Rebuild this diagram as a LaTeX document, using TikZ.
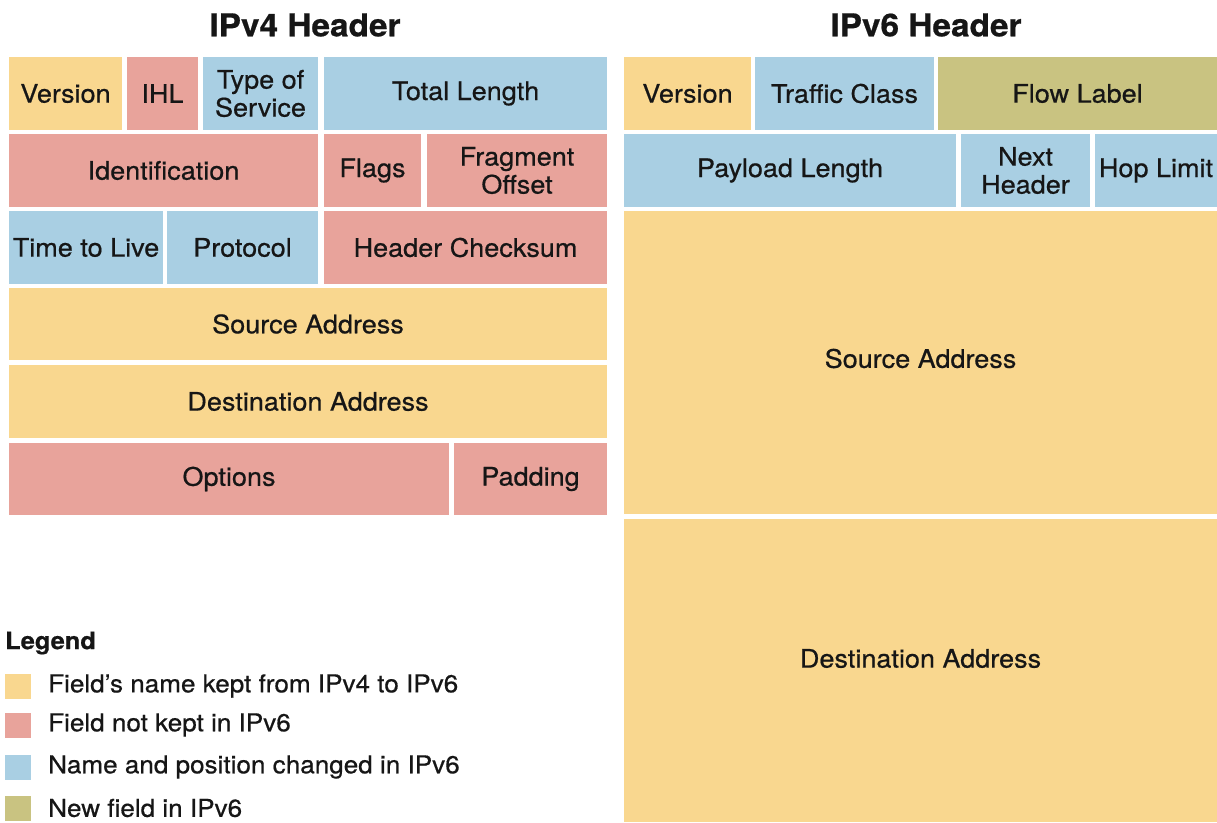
\documentclass[tikz,border=0pt]{standalone}
\usepackage{fontspec}
\setmainfont{TeX Gyre Heros}[FakeStretch=1.06, FakeBold=0.6]
\definecolor{cY}{HTML}{F9D78F}
\definecolor{cR}{HTML}{E8A39B}
\definecolor{cB}{HTML}{A9CFE3}
\definecolor{cO}{HTML}{C9C381}
\definecolor{ink}{HTML}{161616}
\tikzset{
  fld/.style={rectangle, inner sep=0pt, outer sep=0pt, align=center, text=ink,
    font=\fontsize{25.5}{28}\selectfont},
  ttl/.style={inner sep=0pt, text=ink, font=\bfseries\fontsize{31.5}{34}\selectfont},
  lgbox/.style={rectangle, inner sep=0pt, outer sep=0pt, minimum width=26pt, minimum height=25pt},
  lgtxt/.style={inner sep=0pt, anchor=west, text=ink, font=\fontsize{24.6}{27}\selectfont},
}
\newcommand\fld[7]{\node[fld, fill=#6, minimum width={(#4-#2)*1pt}, minimum height={(#5-#3)*1pt}] (#1) at ({(#2+#4)/2},{(#3+#5)/2}) {#7};}
\begin{document}
\begin{tikzpicture}[x=1pt,y=-1pt]
\useasboundingbox[fill=white] (0,0) rectangle (1217,822);
% titles
\node[ttl] (t4) at (305,25) {IPv4 Header};
\node[ttl] (t6) at (926,25) {IPv6 Header};
% IPv4
\fld{v4ver}{9}{57}{122}{130}{cY}{Version}
\fld{ihl}{127}{57}{198}{130}{cR}{IHL}
\fld{tos}{203}{57}{318}{130}{cB}{Type of\\Service}
\fld{tlen}{324}{57}{607}{130}{cB}{Total Length}
\fld{ident}{9}{134}{318}{207}{cR}{Identification}
\fld{flags}{324}{134}{421}{207}{cR}{Flags}
\fld{frag}{427}{134}{607}{207}{cR}{Fragment\\Offset}
\fld{ttl}{9}{211}{163}{284}{cB}{Time to Live}
\fld{proto}{167}{211}{318}{284}{cB}{Protocol}
\fld{chk}{324}{211}{607}{284}{cR}{Header Checksum}
\fld{src4}{9}{288}{607}{360}{cY}{Source Address}
\fld{dst4}{9}{365}{607}{438}{cY}{Destination Address}
\fld{opt}{9}{443}{449}{515}{cR}{Options}
\fld{pad}{454}{443}{607}{515}{cR}{Padding}
% IPv6
\fld{v6ver}{624}{57}{751}{130}{cY}{Version}
\fld{tc}{755}{57}{934}{130}{cB}{Traffic Class}
\fld{flow}{938}{57}{1217}{130}{cO}{Flow Label}
\fld{pay}{624}{134}{956}{207}{cB}{Payload Length}
\fld{nh}{961}{134}{1090}{207}{cB}{Next\\Header}
\fld{hop}{1095}{134}{1217}{207}{cB}{Hop Limit}
\node[fld, fill=cY, minimum width=593pt, minimum height=303pt,
  label={[fld, yshift=4pt]center:Source Address}] (src6) at (920.5,362.5) {};
\node[fld, fill=cY, minimum width=593pt, minimum height=303pt,
  label={[fld, yshift=12pt]center:Destination Address}] (dst6) at (920.5,670.5) {};
% legend
\node[inner sep=0pt, anchor=west, text=ink, font=\bfseries\fontsize{24}{26}\selectfont] (lg) at (5,643) {Legend};
\node[lgbox, fill=cY] (lg1) at (18,686) {};
\node[lgbox, fill=cR] (lg2) at (18,725) {};
\node[lgbox, fill=cB] (lg3) at (18,767) {};
\node[lgbox, fill=cO] (lg4) at (18,808) {};
\node[lgtxt] (lt1) at (48,686) {Field's name kept from IPv4 to IPv6};
\node[lgtxt] (lt2) at (48,725) {Field not kept in IPv6};
\node[lgtxt] (lt3) at (48,767) {Name and position changed in IPv6};
\node[lgtxt] (lt4) at (48,808) {New field in IPv6};
\end{tikzpicture}
\end{document}
